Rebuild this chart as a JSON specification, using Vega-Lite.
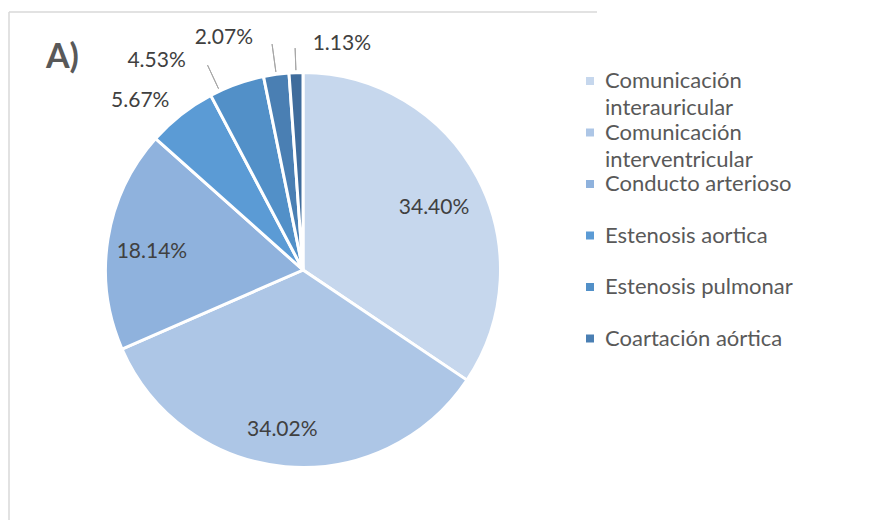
{
  "$schema": "https://vega.github.io/schema/vega-lite/v6.json",
  "width": 588,
  "height": 516,
  "autosize": {"type": "none"},
  "padding": {"left": 9, "top": 12, "right": 279, "bottom": 0},
  "background": "white",
  "view": {"stroke": "#d9d9d9", "strokeWidth": 1.5, "strokeDash": [588, 1104, 516, 0]},
  "title": {"text": "A)", "anchor": "start", "font": "Lato", "fontSize": 34, "fontWeight": "bold", "color": "#595959", "dx": 39, "dy": 90, "baseline": "alphabetic", "offset": 0},
  "config": {
    "text": {"font": "Lato", "fontSize": 21, "fill": "#404040", "align": "center", "baseline": "middle"},
    "style": {"guide-label": {"lineHeight": 27}}
  },
  "data": {
    "values": [
      {"order": 1, "cat": "Comunicación interauricular", "value": 0.3440},
      {"order": 2, "cat": "Comunicación interventricular", "value": 0.3402},
      {"order": 3, "cat": "Conducto arterioso", "value": 0.1814},
      {"order": 4, "cat": "Estenosis aortica", "value": 0.0567},
      {"order": 5, "cat": "Estenosis pulmonar", "value": 0.0453},
      {"order": 6, "cat": "Coartación aórtica", "value": 0.0207},
      {"order": 7, "cat": "Otras", "value": 0.0113}
    ]
  },
  "encoding": {
    "theta": {"field": "value", "type": "quantitative", "stack": true},
    "order": {"field": "order", "type": "quantitative"},
    "detail": {"field": "cat", "type": "nominal"}
  },
  "layer": [
    {
      "mark": {"type": "arc", "outerRadius": 197.5, "stroke": "white", "strokeWidth": 3},
      "encoding": {
        "color": {
          "field": "cat", "type": "nominal",
          "scale": {
            "domain": ["Comunicación interauricular", "Comunicación interventricular", "Conducto arterioso", "Estenosis aortica", "Estenosis pulmonar", "Coartación aórtica", "Otras"],
            "range": ["#c6d7ed", "#adc6e6", "#8fb2dd", "#5b9bd5", "#5290c8", "#4a7fb3", "#3f6c9c"]
          },
          "legend": {
            "orient": "none", "legendX": 570, "legendY": 58, "title": null,
            "values": ["Comunicación interauricular", "Comunicación interventricular", "Conducto arterioso", "Estenosis aortica", "Estenosis pulmonar", "Coartación aórtica"],
            "symbolType": "square", "symbolSize": 64, "symbolStrokeWidth": 0, "symbolOpacity": 1,
            "labelFont": "Lato", "labelFontSize": 22, "labelColor": "#595959", "labelOffset": 4, "labelLimit": 300,
            "labelExpr": "indexof(datum.label, 'Comunicación') == 0 ? split(datum.label, ' ') : datum.label",
            "gridAlign": "all", "rowPadding": 2.5, "padding": 0,
            "encode": {"labels": {"update": {"lineHeight": {"value": 27}}}}
          }
        }
      }
    },
    {"mark": {"type": "text", "radius": 153, "dx": -4, "dy": 10},
     "encoding": {"text": {"condition": {"test": "datum.order === 1", "field": "value", "type": "quantitative", "format": ".2%"}, "value": ""}}},
    {"mark": {"type": "text", "radius": 153, "dx": -7, "dy": 8},
     "encoding": {"text": {"condition": {"test": "datum.order === 2", "field": "value", "type": "quantitative", "format": ".2%"}, "value": ""}}},
    {"mark": {"type": "text", "radius": 153, "dx": 0, "dy": 6},
     "encoding": {"text": {"condition": {"test": "datum.order === 3", "field": "value", "type": "quantitative", "format": ".2%"}, "value": ""}}},
    {"mark": {"type": "text", "radius": 230, "dx": -21, "dy": 12},
     "encoding": {"text": {"condition": {"test": "datum.order === 4", "field": "value", "type": "quantitative", "format": ".2%"}, "value": ""}}},
    {"mark": {"type": "text", "radius": 230, "dx": -69, "dy": 8},
     "encoding": {"text": {"condition": {"test": "datum.order === 5", "field": "value", "type": "quantitative", "format": ".2%"}, "value": ""}}},
    {"mark": {"type": "text", "radius": 230, "dx": -48, "dy": -4},
     "encoding": {"text": {"condition": {"test": "datum.order === 6", "field": "value", "type": "quantitative", "format": ".2%"}, "value": ""}}},
    {"mark": {"type": "text", "radius": 230, "dx": 47, "dy": 4},
     "encoding": {"text": {"condition": {"test": "datum.order === 7", "field": "value", "type": "quantitative", "format": ".2%"}, "value": ""}}},
    {"mark": {"type": "arc", "innerRadius": 200, "outerRadius": 226, "thetaOffset": -0.0925, "padAngle": 0.8, "stroke": "#a6a6a6", "strokeWidth": 1, "fillOpacity": 0},
     "encoding": {"strokeOpacity": {"condition": {"test": "datum.order === 5", "value": 1}, "value": 0}}},
    {"mark": {"type": "arc", "innerRadius": 200, "outerRadius": 228, "padAngle": 0.8, "stroke": "#a6a6a6", "strokeWidth": 1, "fillOpacity": 0},
     "encoding": {"strokeOpacity": {"condition": {"test": "datum.order === 6", "value": 1}, "value": 0}}},
    {"mark": {"type": "arc", "innerRadius": 200, "outerRadius": 222, "padAngle": 0.8, "stroke": "#a6a6a6", "strokeWidth": 1, "fillOpacity": 0},
     "encoding": {"strokeOpacity": {"condition": {"test": "datum.order === 7", "value": 1}, "value": 0}}}
  ]
}
